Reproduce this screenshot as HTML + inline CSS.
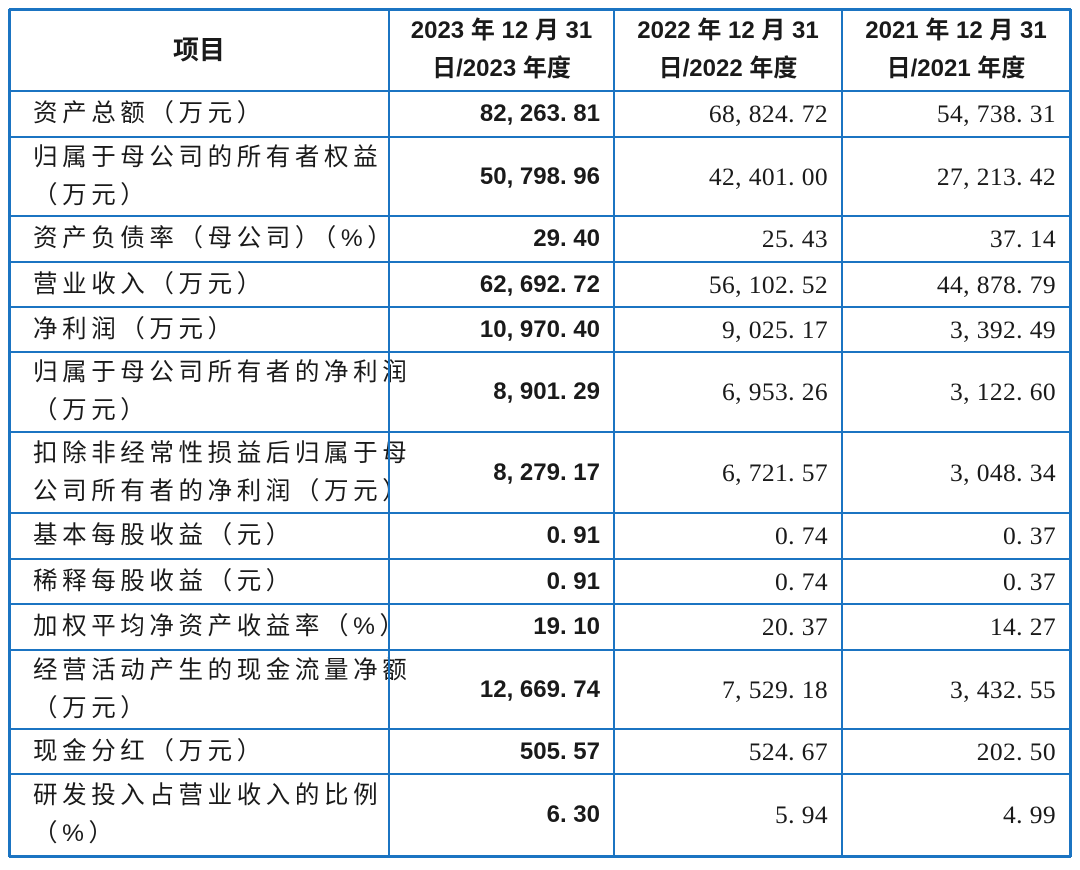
<!DOCTYPE html>
<html><head><meta charset="utf-8">
<style>
body{margin:0;width:1080px;height:870px;background:#fff;position:relative;overflow:hidden;font-family:"Liberation Sans","Noto Sans CJK SC",sans-serif;}
.c{position:absolute;box-sizing:border-box;display:flex;align-items:center;color:#1a1a1a;}
.lbl{font-size:24.5px;padding-left:24px;line-height:38px;letter-spacing:4.6px;white-space:nowrap;}
.hd{font-size:24px;font-weight:bold;justify-content:center;text-align:center;line-height:38px;}
.v{justify-content:flex-end;padding-right:14px;font-size:25.5px;letter-spacing:0.4px;font-family:"Liberation Serif","Noto Serif CJK SC",serif;}
.b{font-family:"Liberation Sans","Noto Sans CJK SC",sans-serif;font-weight:bold;font-size:24px;letter-spacing:0;}
.ln{position:absolute;background:#1b74c2;}
</style></head><body>
<div id="t"></div>
<script>
const rowsY=[9,91,137,216,262,307,352,432,513,559,604,650,729,774,856];
const colsX=[9,389,614,842,1070];
const labels=["资产总额（万元）","归属于母公司的所有者权益<br>（万元）","资产负债率（母公司）（%）","营业收入（万元）","净利润（万元）","归属于母公司所有者的净利润<br>（万元）","扣除非经常性损益后归属于母<br>公司所有者的净利润（万元）","基本每股收益（元）","稀释每股收益（元）","加权平均净资产收益率（%）","经营活动产生的现金流量净额<br>（万元）","现金分红（万元）","研发投入占营业收入的比例<br>（%）"];
const v2023=["82, 263. 81","50, 798. 96","29. 40","62, 692. 72","10, 970. 40","8, 901. 29","8, 279. 17","0. 91","0. 91","19. 10","12, 669. 74","505. 57","6. 30"];
const v2022=["68, 824. 72","42, 401. 00","25. 43","56, 102. 52","9, 025. 17","6, 953. 26","6, 721. 57","0. 74","0. 74","20. 37","7, 529. 18","524. 67","5. 94"];
const v2021=["54, 738. 31","27, 213. 42","37. 14","44, 878. 79","3, 392. 49","3, 122. 60","3, 048. 34","0. 37","0. 37","14. 27","3, 432. 55","202. 50","4. 99"];
const headers=["<span style='font-size:26px'>项目</span>","2023 年 12 月 31<br>日/2023 年度","2022 年 12 月 31<br>日/2022 年度","2021 年 12 月 31<br>日/2021 年度"];
const t=document.getElementById('t');
function cell(x0,x1,y0,y1,cls,html){const d=document.createElement('div');d.className='c '+cls;d.style.left=x0+'px';d.style.width=(x1-x0)+'px';d.style.top=y0+'px';d.style.height=(y1-y0)+'px';d.innerHTML=html;t.appendChild(d);return d;}
for(let i=0;i<4;i++){
 const h=cell(colsX[i],colsX[i+1],rowsY[0],rowsY[1],'hd',headers[i]);
 
 
}
for(let r=0;r<labels.length;r++){
 const y0=rowsY[r+1],y1=rowsY[r+2];
 const a=cell(colsX[0],colsX[1],y0,y1,'lbl',labels[r]);
 
 
 const b=cell(colsX[1],colsX[2],y0,y1,'v b',v2023[r]);
 
 
 const c=cell(colsX[2],colsX[3],y0,y1,'v',v2022[r]);
 
 
 const d=cell(colsX[3],colsX[4],y0,y1,'v',v2021[r]);
 
 
}
function line(x,y,w,h){const l=document.createElement('div');l.className='ln';l.style.left=x+'px';l.style.top=y+'px';l.style.width=w+'px';l.style.height=h+'px';
 
 
 t.appendChild(l);}
rowsY.forEach((y,i)=>{const th=(i==0||i==rowsY.length-1)?3:2;line(colsX[0],y-1,colsX[4]-colsX[0]+1,th);});
colsX.forEach((x,i)=>{const th=(i==0||i==colsX.length-1)?3:2;line(x-1,rowsY[0],th,rowsY[rowsY.length-1]-rowsY[0]+1);});
</script>
</body></html>
